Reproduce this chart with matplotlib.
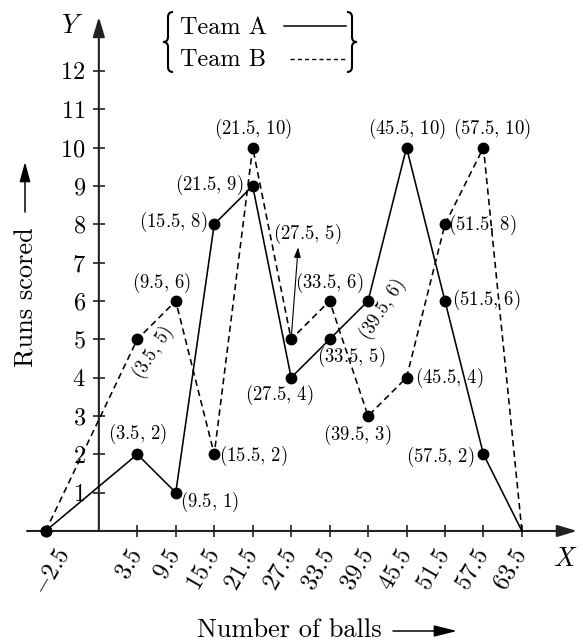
import numpy as np
import matplotlib
matplotlib.use('Agg')
import matplotlib.pyplot as plt
from matplotlib.path import Path
from matplotlib.patches import PathPatch
from matplotlib.transforms import IdentityTransform

plt.rcParams['mathtext.fontset'] = 'cm'
plt.rcParams['font.family'] = 'serif'
plt.rcParams['font.serif'] = ['cmr10']
plt.rcParams['axes.unicode_minus'] = False
plt.rcParams['axes.formatter.use_mathtext'] = True

# ---------------- data ----------------
x_vals = [-2.5, 3.5, 9.5, 15.5, 21.5, 27.5, 33.5, 39.5, 45.5, 51.5, 57.5, 63.5]
team_a = [0, 2, 1, 8, 9, 4, 5, 6, 10, 6, 2, 0]
team_b = [0, 5, 6, 2, 10, 5, 6, 3, 4, 8, 10, 0]
x_tick_labels = ['3.5', '9.5', '15.5', '21.5', '27.5', '33.5', '39.5',
                 '45.5', '51.5', '57.5', '63.5']
y_ticks = [1, 2, 3, 4, 5, 6, 7, 8, 9, 10, 11, 12]
series_names = ['Team A', 'Team B']

# ---------------- layout (label offsets in pixels: dx right, dy up, rotation) ----
lab_a = {3.5: (0, 20, 0), 9.5: (34, -9, 0), 15.5: (-41, 2, 0), 21.5: (-43, 1, 0),
         27.5: (-12, -17, 0), 33.5: (22, -18, 0), 39.5: (14, -9, 57),
         45.5: (0, 19, 0), 51.5: (41, 1, 0), 57.5: (-43, -3, 0)}
lab_b = {3.5: (16, -13, 57), 9.5: (-14, 18, 0), 15.5: (39, -2, 0), 21.5: (0, 19, 0),
         27.5: (16, 105, 0), 33.5: (0, 18, 0), 39.5: (-11, -19, 0),
         45.5: (43, 0, 0), 51.5: (37, -1, 0), 57.5: (9, 19, 0)}

W, H = 583, 641
PT = 100 / 72.0

fig = plt.figure(figsize=(W / 100, H / 100), dpi=100)
ax = fig.add_axes([0, 0, 1, 1])
ax.patch.set_visible(False)

# broken x-scale: the stretch between -2.5 and the Y axis is compressed differently
kx = [-100.0, -2.5, 0.0, 3.5, 200.0]
ku = [-108.3, -10.8, -2.5, 3.5, 200.0]
fwd = lambda x: np.interp(x, kx, ku)
inv = lambda u: np.interp(u, ku, kx)
ax.set_xscale('function', functions=(fwd, inv))
ax.set_xlim(-9.62, 73.03)
ax.set_ylim(-2.87, 13.85)

for s in ['top', 'right', 'left', 'bottom']:
    ax.spines[s].set_visible(False)
ax.spines['left'].set_position(('data', 0))
ax.spines['bottom'].set_position(('data', 0))

# axes arrows
ax_lw = 1.5
ax.annotate('', xy=(72.1, 0), xytext=(-5.4, 0), xycoords='data',
            arrowprops=dict(arrowstyle='-|>,head_length=1.2,head_width=0.36',
                            color='#222222', lw=ax_lw, shrinkA=0, shrinkB=0,
                            mutation_scale=10))
ax.annotate('', xy=(0, 13.41), xytext=(0, 0), xycoords='data',
            arrowprops=dict(arrowstyle='-|>,head_length=1.2,head_width=0.36',
                            color='#222222', lw=ax_lw, shrinkA=0, shrinkB=0,
                            mutation_scale=10))

ax.set_xticks(x_vals[1:])
ax.set_xticklabels(['$' + t + '$' for t in x_tick_labels])
ax.set_yticks(y_ticks)
ax.set_yticklabels(['$%d$' % v for v in y_ticks])
ax.tick_params(axis='both', direction='inout', length=8, width=1.2,
               color='#222222', labelsize=17.5)
ax.tick_params(axis='y', pad=5.5)
ax.tick_params(axis='x', pad=10, labelrotation=60)
for t in ax.get_xticklabels():
    t.set_ha('right')
    t.set_va('center')
    t.set_rotation_mode('anchor')

# -2.5 label (no tick mark there)
ax.annotate('$-2.5$', xy=(-2.5, 0), xytext=(19 / PT, -19 / PT),
            textcoords='offset points', ha='right', va='center',
            rotation=60, rotation_mode='anchor', fontsize=17.5)

# series
mk = list(range(len(x_vals) - 1))
ax.plot(x_vals, team_a, color='black', lw=1.15, marker='o', ms=7.5,
        markevery=mk, clip_on=False, zorder=3)
ax.plot(x_vals, team_b, color='black', lw=1.15, ls=(0, (4, 2.6)), marker='o',
        ms=7.5, markevery=mk, clip_on=False, zorder=3)


def fmt(v):
    return ('%g' % v)


for xs, ys, labs in [(x_vals, team_a, lab_a), (x_vals, team_b, lab_b)]:
    for xv, yv in zip(xs, ys):
        if xv not in labs:
            continue
        dx, dy, rot = labs[xv]
        ax.annotate(r'$(%s,\,%s)$' % (fmt(xv), fmt(yv)), xy=(xv, yv),
                    xytext=(dx / PT, dy / PT), textcoords='offset points',
                    ha='center', va='center', rotation=rot,
                    rotation_mode='anchor', fontsize=13.5)

# arrow for (27.5, 5)
ax.annotate('', xy=(27.5, 5), xytext=(7 / PT, 92 / PT), textcoords='offset points',
            arrowprops=dict(arrowstyle='<|-,head_length=0.6,head_width=0.2',
                            color='black', lw=0.8, shrinkA=0, shrinkB=2,
                            mutation_scale=10))


def fp(x, y):
    return (x / W, 1 - y / H)


# axis letters
fig.text(*fp(72, 26), '$Y$', fontsize=19, ha='center', va='center')
fig.text(*fp(565, 559), '$X$', fontsize=19, ha='center', va='center')

# axis titles with arrows
fig.text(*fp(289, 630), 'Number of balls', fontsize=19, ha='center', va='center')
ax.annotate('', xy=(457, H - 631), xytext=(393, H - 631), xycoords='figure pixels',
            arrowprops=dict(arrowstyle='-|>,head_length=1.4,head_width=0.35',
                            color='black', lw=1.1, shrinkA=0, shrinkB=0,
                            mutation_scale=10))
fig.text(*fp(27, 297), 'Runs scored', fontsize=19, ha='center', va='center',
         rotation=90)
ax.annotate('', xy=(25, H - 162), xytext=(25, H - 212), xycoords='figure pixels',
            arrowprops=dict(arrowstyle='-|>,head_length=1.2,head_width=0.33',
                            color='black', lw=1.1, shrinkA=0, shrinkB=0,
                            mutation_scale=10))

# legend with braces


def brace(xt, xa, yt, yb, r):
    xm = (xt + xa) / 2.0
    ym = (yt + yb) / 2.0
    pts = [(xa, yt), (xm, yt), (xm, yt + r), (xm, ym - r), (xm, ym), (xt, ym),
           (xm, ym), (xm, ym + r), (xm, yb - r), (xm, yb), (xa, yb)]
    codes = [Path.MOVETO, Path.CURVE3, Path.CURVE3, Path.LINETO, Path.CURVE3,
             Path.CURVE3, Path.CURVE3, Path.CURVE3, Path.LINETO, Path.CURVE3,
             Path.CURVE3]
    pts = [(px, H - py) for px, py in pts]
    fig.add_artist(PathPatch(Path(pts, codes), fill=False, lw=1.5,
                             edgecolor='black', transform=IdentityTransform()))


brace(163, 173, 12, 72, 5)
brace(357, 347, 12, 72, 5)
fig.text(*fp(180, 28), series_names[0], fontsize=17.5, ha='left', va='center')
fig.text(*fp(180, 60), series_names[1], fontsize=17.5, ha='left', va='center')
fig.add_artist(plt.Line2D([284 / W, 346 / W], [1 - 26 / H, 1 - 26 / H],
                          color='black', lw=1.1, transform=fig.transFigure))
fig.add_artist(plt.Line2D([290 / W, 346 / W], [1 - 59 / H, 1 - 59 / H],
                          color='black', lw=1.0, ls=(0, (3, 2.2)),
                          transform=fig.transFigure))

fig.savefig('out.png', dpi=100)
